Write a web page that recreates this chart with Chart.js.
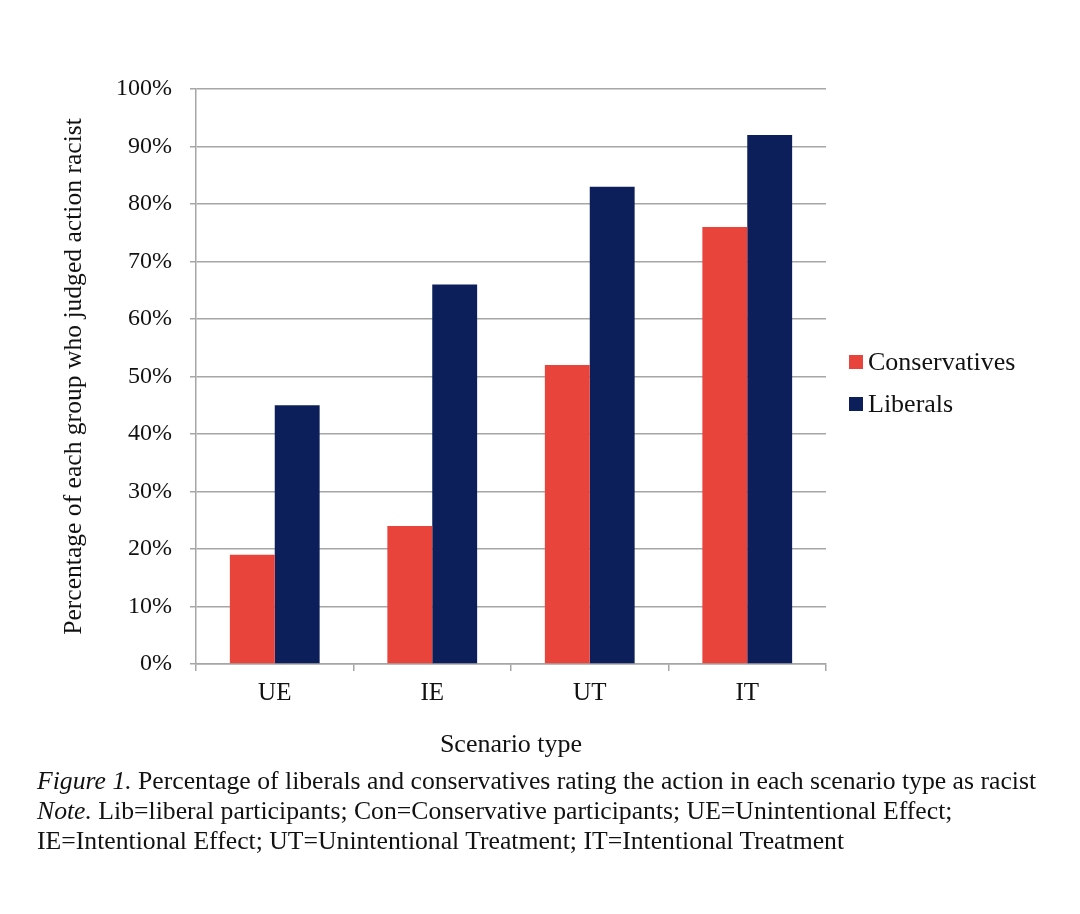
<!DOCTYPE html>
<html>
<head>
<meta charset="utf-8">
<script src="https://cdn.jsdelivr.net/npm/chart.js@4.4.1/dist/chart.umd.min.js"></script>
<style>
    body {
        margin: 0;
        background: #ffffff;
        width: 1080px;
        height: 914px;
        position: relative;
        overflow: hidden;
        font-family: "Liberation Serif", "Times New Roman", serif;
        color: #111111;
    }
    #chart-box {
        position: absolute;
        left: 0;
        top: 0;
        width: 1080px;
        height: 770px;
    }
    #legend {
        position: absolute;
        left: 849px;
        top: 346px;
        font-size: 26px;
    }
    .legend-row {
        height: 42px;
        line-height: 32px;
        white-space: nowrap;
    }
    .legend-box {
        display: inline-block;
        width: 14px;
        height: 14px;
        margin-right: 5px;
        vertical-align: 1px;
    }
    #caption {
        position: absolute;
        left: 37px;
        top: 766px;
        font-size: 25.7px;
        line-height: 30px;
        white-space: nowrap;
    }
</style>
</head>
<body>
<div id="chart-box"><canvas id="scenario-chart" width="1080" height="770"></canvas></div>
<div id="legend"></div>
<div id="caption">
    <div><i>Figure 1.</i> Percentage of liberals and conservatives rating the action in each scenario type as racist</div>
    <div><i>Note.</i> Lib=liberal participants; Con=Conservative participants; UE=Unintentional Effect;</div>
    <div>IE=Intentional Effect; UT=Unintentional Treatment; IT=Intentional Treatment</div>
</div>
<script>
const scenarios = ["UE", "IE", "UT", "IT"];
const conservatives = [19, 24, 52, 76];
const liberals = [45, 66, 83, 92];
const y_ticks = [0, 10, 20, 30, 40, 50, 60, 70, 80, 90, 100];

const serif = "'Liberation Serif', 'Times New Roman', serif";
const grid_grey = "#a6a6a6";

Chart.defaults.font.family = serif;
Chart.defaults.color = "#111111";

const ctx = document.getElementById("scenario-chart");
const chart = new Chart(ctx, {
    type: "bar",
    data: {
        labels: scenarios,
        datasets: [{
            label: "Conservatives",
            data: conservatives,
            backgroundColor: "#e8443b",
            categoryPercentage: 0.57,
            barPercentage: 1.0
        }, {
            label: "Liberals",
            data: liberals,
            backgroundColor: "#0c1f5a",
            categoryPercentage: 0.57,
            barPercentage: 1.0
        }]
    },
    options: {
        responsive: false,
        animation: false,
        devicePixelRatio: 1,
        layout: {
            padding: { left: 55, top: 89, right: 254, bottom: 0 }
        },
        plugins: {
            tooltip: { enabled: false },
            legend: { display: false }
        },
        scales: {
            y: {
                min: 0,
                max: 100,
                afterBuildTicks: (scale) => {
                    scale.ticks = y_ticks.map(v => ({ value: v }));
                },
                afterFit: (scale) => {
                    scale.width = 196 - 55;
                },
                ticks: {
                    callback: (v) => v + "%",
                    padding: 18,
                    font: { size: 24 },
                    color: "#111111"
                },
                grid: {
                    color: grid_grey,
                    lineWidth: 1.5,
                    tickLength: 6
                },
                border: { color: grid_grey, width: 1.5 },
                title: {
                    display: true,
                    text: "Percentage of each group who judged action racist",
                    font: { size: 25.6 },
                    color: "#111111",
                    padding: { top: 4, bottom: 0 }
                }
            },
            x: {
                afterFit: (scale) => {
                    scale.height = 770 - 664;
                },
                ticks: {
                    padding: 7,
                    font: { size: 25 },
                    color: "#111111"
                },
                grid: {
                    drawOnChartArea: false,
                    color: grid_grey,
                    lineWidth: 1.5,
                    tickLength: 7
                },
                border: { color: grid_grey, width: 1.5 },
                title: {
                    display: true,
                    text: "Scenario type",
                    font: { size: 26 },
                    color: "#111111",
                    padding: { top: 0, bottom: 9 }
                }
            }
        }
    }
});

// legend sits beside the plot, built from the chart's own datasets
let legend_html = "";
chart.data.datasets.forEach((ds) => {
    legend_html += '<div class="legend-row"><span class="legend-box" style="background:' +
        ds.backgroundColor + '"></span>' + ds.label + '</div>';
});
document.getElementById("legend").innerHTML = legend_html;
</script>
</body>
</html>
